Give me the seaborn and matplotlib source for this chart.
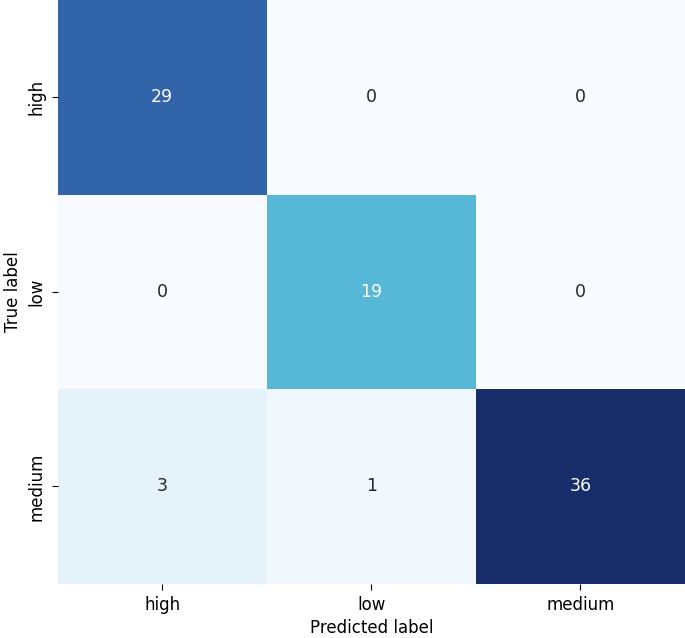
import matplotlib
matplotlib.use("Agg")
import matplotlib.pyplot as plt
import numpy as np
import pandas as pd
import seaborn as sns
from matplotlib.colors import LinearSegmentedColormap

labels = ["high", "low", "medium"]
counts = [
    [29, 0, 0],
    [0, 19, 0],
    [3, 1, 36],
]

cm = pd.DataFrame(np.array(counts), index=labels, columns=labels)

# light-to-navy blue ramp picked off the reference cells
cmap = LinearSegmentedColormap.from_list(
    "cm_blues",
    [(0.0, "#f7fbff"), (0.083, "#e6f2fa"), (0.53, "#56b7d6"), (0.8, "#3366ad"), (1.0, "#182e6a")],
)

fig = plt.figure(figsize=(6.85, 6.38), dpi=100)
ax = fig.add_axes([0.084, 0.085, 0.916, 0.915])
sns.heatmap(
    cm,
    annot=True,
    fmt="d",
    cmap=cmap,
    cbar=False,
    ax=ax,
    annot_kws={"fontsize": 12.5},
)
ax.set_xlabel("Predicted label", fontsize=12, labelpad=4)
ax.set_ylabel("True label", fontsize=12, labelpad=4)
ax.tick_params(axis="both", labelsize=12, length=4.5, pad=4)
fig.savefig("out.png", dpi=100)
